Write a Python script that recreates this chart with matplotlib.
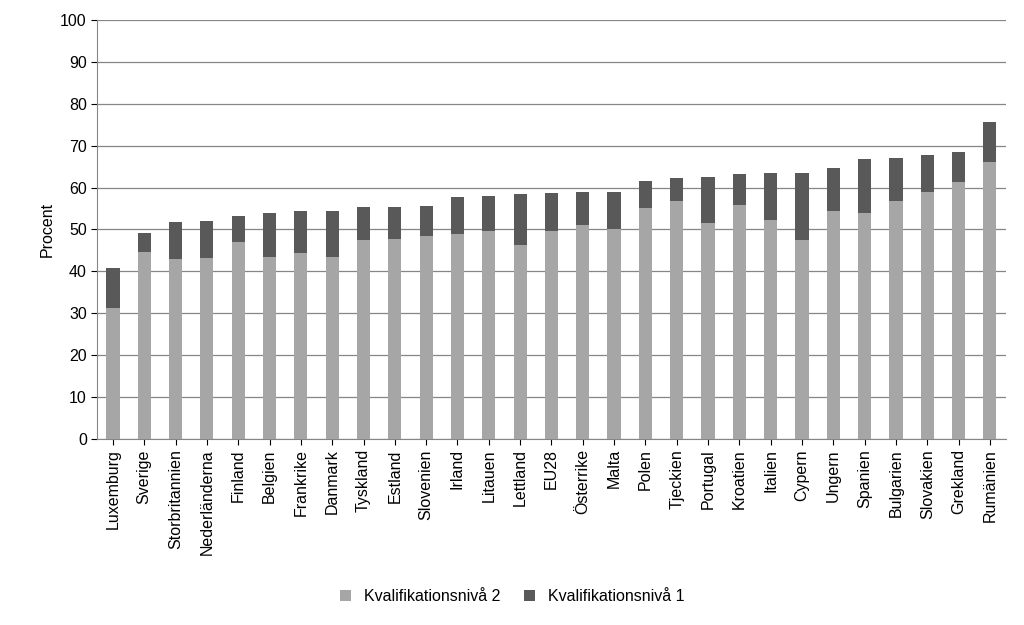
import matplotlib
matplotlib.use("Agg")
import matplotlib.pyplot as plt
import numpy as np

plt.rcParams["font.family"] = "Liberation Sans"

countries = ["Luxemburg", "Sverige", "Storbritannien", "Nederländerna", "Finland",
             "Belgien", "Frankrike", "Danmark", "Tyskland", "Estland", "Slovenien",
             "Irland", "Litauen", "Lettland", "EU28", "Österrike", "Malta", "Polen",
             "Tjeckien", "Portugal", "Kroatien", "Italien", "Cypern", "Ungern",
             "Spanien", "Bulgarien", "Slovakien", "Grekland", "Rumänien"]
level2 = [31.3, 44.5, 43.0, 43.2, 47.0, 43.5, 44.3, 43.5, 47.4, 47.6, 48.4,
          49.0, 49.5, 46.3, 49.5, 51.0, 50.0, 55.0, 56.7, 51.6, 55.8, 52.2,
          47.4, 54.3, 54.0, 56.7, 59.0, 61.4, 66.0]
total = [40.8, 49.2, 51.7, 52.1, 53.1, 53.8, 54.4, 54.4, 55.3, 55.3, 55.7,
         57.8, 58.0, 58.4, 58.6, 59.0, 59.0, 61.6, 62.3, 62.5, 63.2, 63.4,
         63.4, 64.6, 66.7, 67.0, 67.8, 68.4, 75.7]
level1 = [t - b for t, b in zip(total, level2)]

fig = plt.figure(figsize=(10.24, 6.25), dpi=100)
ax = fig.add_axes([0.095, 0.298, 0.887, 0.670])

x = np.arange(len(countries))
ax.bar(x, level2, width=0.42, color="#a6a6a6", label="Kvalifikationsnivå 2", zorder=3)
ax.bar(x, level1, width=0.42, bottom=level2, color="#595959",
       label="Kvalifikationsnivå 1", zorder=3)

ax.set_ylim(0, 100)
ax.set_xlim(-0.5, len(countries) - 0.5)
ax.set_yticks(range(0, 101, 10))
ax.set_xticks(x)
ax.set_xticklabels(countries, rotation=90, fontsize=11.5)
ax.tick_params(axis="y", labelsize=11.5, length=4)
ax.tick_params(axis="x", length=4)
ax.set_ylabel("Procent", fontsize=11.5)
ax.grid(axis="y", color="#868686", linewidth=0.9, zorder=0)
for s in ["top", "right"]:
    ax.spines[s].set_visible(False)
ax.spines["left"].set_color("#868686")
ax.spines["bottom"].set_color("#868686")

fig.legend(loc="lower center", bbox_to_anchor=(0.5, 0.01), ncol=2, frameon=False,
           fontsize=11.5, handlelength=0.7, handleheight=0.7, columnspacing=1.5)

fig.savefig("out.png", dpi=100)
